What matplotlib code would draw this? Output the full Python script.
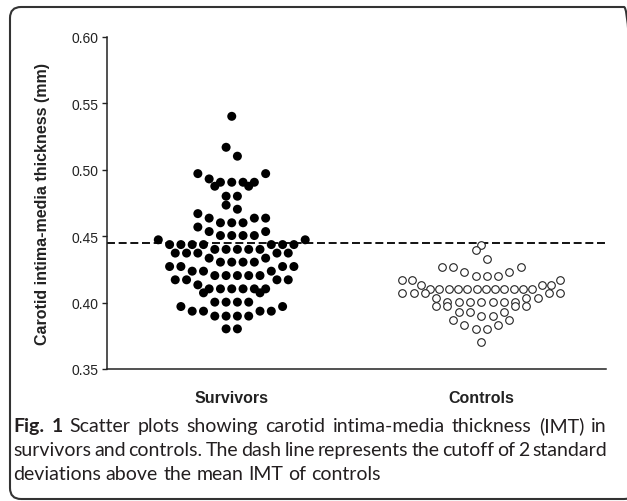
import numpy as np
import matplotlib
matplotlib.use("Agg")
import matplotlib.pyplot as plt
from matplotlib.patches import FancyBboxPatch
from matplotlib.transforms import IdentityTransform

GROUPS = ["Survivors", "Controls"]

# carotid IMT (mm), one value per subject
SURVIVORS = [
    0.5401, 0.5168, 0.5101,
    0.4970, 0.4970, 0.4930, 0.4905, 0.4905, 0.4905, 0.4905,
    0.4875, 0.4875, 0.4800, 0.4800,
    0.4733, 0.4702,
    0.4669, 0.4635, 0.4635, 0.4635, 0.4600, 0.4600, 0.4600,
    0.4568, 0.4534, 0.4534, 0.4504, 0.4504, 0.4504, 0.4504,
    0.4472, 0.4472, 0.4436, 0.4436, 0.4436, 0.4436, 0.4436, 0.4436, 0.4436,
    0.4400, 0.4400, 0.4400, 0.4400, 0.4400,
    0.4372, 0.4372, 0.4372, 0.4372, 0.4372, 0.4334, 0.4334,
    0.4304, 0.4304, 0.4304, 0.4304,
    0.4271, 0.4271, 0.4271, 0.4271, 0.4236, 0.4236, 0.4236,
    0.4203, 0.4203, 0.4203, 0.4203, 0.4203,
    0.4171, 0.4171, 0.4171, 0.4171, 0.4133,
    0.4103, 0.4103, 0.4103, 0.4103, 0.4103, 0.4103,
    0.4073, 0.4073, 0.4003, 0.4003, 0.4003, 0.4003,
    0.3970, 0.3970, 0.3935, 0.3935, 0.3935, 0.3935,
    0.3898, 0.3898, 0.3898, 0.3898,
    0.3802, 0.3802,
]
CONTROLS = [
    0.4434, 0.4398, 0.4329,
    0.4271, 0.4271, 0.4271, 0.4233, 0.4233, 0.4203, 0.4203, 0.4203,
    0.4173, 0.4173, 0.4173, 0.4135, 0.4135, 0.4135,
    0.4103, 0.4103, 0.4103, 0.4103, 0.4103, 0.4103,
    0.4103, 0.4103, 0.4103, 0.4103, 0.4103, 0.4103,
    0.4073, 0.4073, 0.4073, 0.4073, 0.4073, 0.4033, 0.4033, 0.4033,
    0.4003, 0.4003, 0.4003, 0.4003, 0.4003, 0.4003, 0.4003,
    0.3972, 0.3972, 0.3972, 0.3972, 0.3932, 0.3932, 0.3932, 0.3902, 0.3902,
    0.3872, 0.3872, 0.3832, 0.3832, 0.3802, 0.3802,
    0.3702,
]
CUTOFF = 0.445  # mean + 2 SD of controls

YTICKS = [0.35, 0.40, 0.45, 0.50, 0.55, 0.60]
CAPTION = [
    ("Fig. 1 Scatter plots showing carotid intima-media thickness (IMT) in", True),
    ("survivors and controls. The dash line represents the cutoff of 2 standard", True),
    ("deviations above the mean IMT of controls", False),
]

INK = "#231f20"
W, H = 627, 502


def column_x(ax, xpos, values, spacing=11.3, row_h=11.3, max_w=158):
    """Column scatter layout: values within one symbol height share a row,
    spread side by side from the centre out (lowest value in the middle)."""
    tr = ax.transData
    vals = np.asarray(values, float)
    pts = tr.transform(np.column_stack([np.full(len(vals), xpos), vals]))
    x0, ys = pts[0, 0], pts[:, 1]
    order = np.argsort(vals, kind="stable")
    xs = np.empty(len(vals))
    i = 0
    while i < len(order):
        j = i
        while j < len(order) and ys[order[j]] - ys[order[i]] < row_h:
            j += 1
        members = order[i:j]
        n = len(members)
        step = spacing if n < 2 else min(spacing, max_w / (n - 1))
        slots = sorted(np.arange(n) - (n - 1) / 2, key=lambda s: (abs(s), -s))
        for m, s in zip(members, slots):
            xs[m] = x0 + s * step
        i = j
    return tr.inverted().transform(np.column_stack([xs, ys]))[:, 0]


fig = plt.figure(figsize=(W / 100, H / 100), dpi=100)
fig.patch.set_facecolor("white")

# rounded frame round the whole figure
frame = FancyBboxPatch((10, 2), 625, 492, boxstyle="round,pad=0,rounding_size=11",
                       transform=IdentityTransform(), fc="none", ec="#333333", lw=1.5)
fig.add_artist(frame)

ax = fig.add_axes([107 / W, 1 - 370 / H, (606 - 107) / W, (370 - 37.7) / H])
ax.set_xlim(-0.5, 1.5)
ax.set_ylim(0.35, 0.60)

for s in ("top", "right"):
    ax.spines[s].set_visible(False)
for s in ("left", "bottom"):
    ax.spines[s].set_linewidth(1.1)
    ax.spines[s].set_color("#222222")

ax.set_yticks(YTICKS)
ax.set_yticklabels([f"{v:.2f}" for v in YTICKS], fontsize=10, family="Liberation Sans")
ax.tick_params(axis="y", length=3.5, width=1, pad=2.5, colors="#222222")
ax.set_xticks([0, 1])
ax.set_xticklabels(GROUPS, fontsize=11.5, fontweight="bold", family="Liberation Sans")
ax.tick_params(axis="x", length=0, pad=15, colors="#222222")

ax.set_ylabel("Carotid intima-media thickness (mm)", fontsize=11.5, fontweight="bold",
              family="Liberation Sans", color="#222222")
ax.yaxis.set_label_coords(-0.114, 0.5)

ax.axhline(CUTOFF, color="#111111", lw=1.4, ls=(0, (4.1, 1.9)), zorder=1)

xs_s = column_x(ax, 0, SURVIVORS)
ax.scatter(xs_s, SURVIVORS, s=42, c="black", edgecolors="none", zorder=3, clip_on=False)
xs_c = column_x(ax, 1, CONTROLS)
ax.scatter(xs_c, CONTROLS, s=30, facecolors="white", edgecolors="#222222",
           linewidths=0.8, zorder=3, clip_on=False)

# caption, justified between the frame margins except for the last line
cap_kw = dict(fontsize=14, family="Lato", color=INK, va="baseline", ha="left")
renderer = fig.canvas.get_renderer()
left, right = 13, 607
for k, (line, justify) in enumerate(CAPTION):
    y = 1 - (432 + 24 * k) / H
    words = line.split(" ")
    arts = []
    for n, w in enumerate(words):
        bold = k == 0 and n < 2
        arts.append(fig.text(0, y, w, fontweight="bold" if bold else "normal", **cap_kw))
    widths = [a.get_window_extent(renderer).width for a in arts]
    space = fig.text(0, y, "a a", **cap_kw).get_window_extent(renderer).width
    space -= fig.text(0, y, "aa", **cap_kw).get_window_extent(renderer).width
    fig.texts = fig.texts[:-2]
    gap = (right - left - sum(widths)) / (len(words) - 1) if justify else space
    x = left
    for a, wd in zip(arts, widths):
        a.set_x(x / W)
        x += wd + gap

fig.savefig("out.png", dpi=100, facecolor="white")
